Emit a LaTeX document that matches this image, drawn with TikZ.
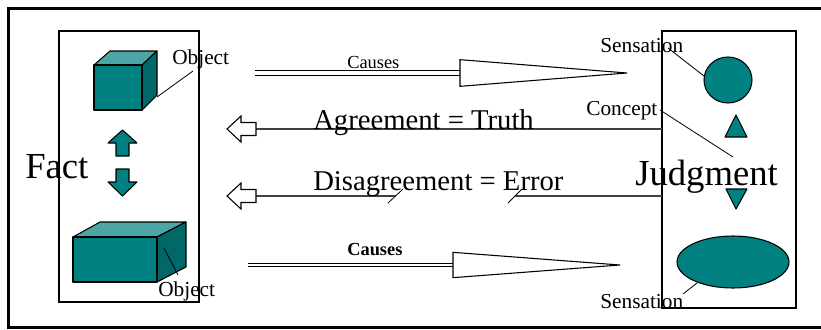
\documentclass[tikz,border=0pt]{standalone}
\usepackage{fontspec}
\setmainfont{Liberation Serif}
\begin{document}
\begin{tikzpicture}[x=0.75pt,y=-0.75pt,
  lbl/.style={inner sep=0pt,anchor=base west,font=\fontsize{16}{18}\selectfont},
  big/.style={inner sep=0pt,anchor=base west,font=\fontsize{27.5}{30}\selectfont},
  eqn/.style={inner sep=0pt,anchor=base west,font=\fontsize{21.5}{24}\selectfont},
  cause/.style={inner sep=0pt,anchor=base west,font=\fontsize{13.8}{15}\selectfont},
  face/.style={draw=black,line width=0.8pt,line join=round},
  leader/.style={draw=black,line width=0.6pt},
  hollow/.style={draw=black,fill=white,line width=0.8pt},
  rail/.style={draw=black,double=white,line width=0.8pt},
  link/.style={draw=black!75,line width=0.9pt}]
\useasboundingbox (0,0) rectangle (821,329);
\definecolor{teal0}{HTML}{008080}
\definecolor{tealtop}{HTML}{4DA6A6}
\definecolor{tealside}{HTML}{006868}

% outer frame, open on the right
\draw[line width=2.2pt] (840,8.5) -- (8.5,8.5) -- (8.5,327.5) -- (840,327.5);

% the two panels
\draw[line width=0.8pt] (59,31) rectangle (199,302);
\draw[line width=0.8pt] (662,31) rectangle (796,308);

% upper object: a cube
\fill[tealtop,face] (94,65) -- (110,51) -- (157,51) -- (142,65) -- cycle;
\fill[tealside,face] (142,65) -- (157,51) -- (157,95) -- (142,110) -- cycle;
\fill[teal0,face] (94,65) rectangle (142,110);
\coordinate (cubeA) at (157,97);

% lower object: a flat block
\fill[tealtop,face] (73,237) -- (100,222) -- (186,222) -- (157,237) -- cycle;
\fill[tealside,face] (157,237) -- (186,222) -- (186,267) -- (157,282) -- cycle;
\fill[teal0,face] (73,237) rectangle (157,282);
\coordinate (cubeB) at (164,248);

% up and down arrows between the objects
\fill[teal0,face] (122.5,130) -- (137,143) -- (129,143) -- (129,156) -- (116,156) -- (116,143) -- (108,143) -- cycle;
\fill[teal0,face] (122.5,196) -- (137,182) -- (129,182) -- (129,169) -- (116,169) -- (116,182) -- (108,182) -- cycle;

% labels of the fact panel
\node[big] (fact) at (25,178) {Fact};
\node[lbl] (objA) at (172,64) {Object};
\node[lbl] (objB) at (158,296) {Object};
\coordinate (objAend) at (193,71);
\coordinate (objBend) at (178,275);
\draw[leader] (objAend) -- (cubeA);
\draw[leader] (cubeB) -- (objBend);

% judgment panel shapes
\fill[teal0,face] (728,80) ellipse [x radius=24,y radius=23];
\coordinate (circ) at (704,76);
\fill[teal0,face] (736,115) -- (747,137) -- (725,137) -- cycle;
\fill[teal0,face] (726,189) -- (747,189) -- (736,209) -- cycle;
\fill[teal0,face] (733,262) ellipse [x radius=56,y radius=26];
\coordinate (ell) at (697,283);

\node[big] (judg) at (635,185) {Judgment};
\node[lbl] (sensA) at (600,52) {Sensation};
\node[lbl] (conc) at (586,115) {Concept};
\node[lbl] (sensB) at (600,308) {Sensation};
\coordinate (sensAend) at (668,48);
\coordinate (concend) at (660,110);
\coordinate (judgtop) at (733,157);
\coordinate (sensBend) at (683,294);
\draw[leader] (sensAend) -- (circ);
\draw[leader] (concend) -- (judgtop);
\draw[leader] (sensBend) -- (ell);

% upper causal arrow
\coordinate (c1s) at (255,73);
\coordinate (c1h) at (460,73);
\coordinate (c1t) at (627,73);
\draw[rail,double distance=2.4pt] (c1s) -- (c1h);
\draw[hollow,line join=miter] ([yshift=-10]c1h) -- (c1t) -- ([yshift=10]c1h) -- cycle;
\node[cause] (cause1) at (347,68.5) {Causes};

% lower causal arrow
\coordinate (c2s) at (248,265);
\coordinate (c2h) at (453,265);
\coordinate (c2t) at (620,265);
\draw[rail,double distance=1.2pt] (c2s) -- (c2h);
\draw[hollow,line join=miter] ([yshift=-9.5]c2h) -- (c2t) -- ([yshift=9.5]c2h) -- cycle;
\node[cause,font=\fontsize{13.8}{15}\selectfont\bfseries] (cause2) at (347,255) {Causes};

% agreement: judgment back to fact
\coordinate (agR) at (662,129);
\coordinate (agL) at (256,129);
\draw[link] (agR) -- (agL);
\draw[hollow] (227,129) -- (241,116) -- (241,122.5) -- (256,122.5) -- (256,135.5) -- (241,135.5) -- (241,142) -- cycle;
\node[eqn] (agree) at (313,129) {Agreement = Truth};

% disagreement: a broken line
\coordinate (dgR) at (662,196);
\coordinate (dgM2) at (515,196);
\coordinate (dgM1) at (396,196);
\coordinate (dgL) at (256,196);
\draw[link] (dgR) -- (dgM2);
\draw[link] (dgM1) -- (dgL);
\draw[leader] (388,203) -- (403,189);
\draw[leader] (508,203) -- (522,189);
\draw[hollow] (227,196) -- (241,183) -- (241,189.5) -- (256,189.5) -- (256,202.5) -- (241,202.5) -- (241,209) -- cycle;
\node[eqn] (disagree) at (313,190) {Disagreement = Error};
\end{tikzpicture}
\end{document}
